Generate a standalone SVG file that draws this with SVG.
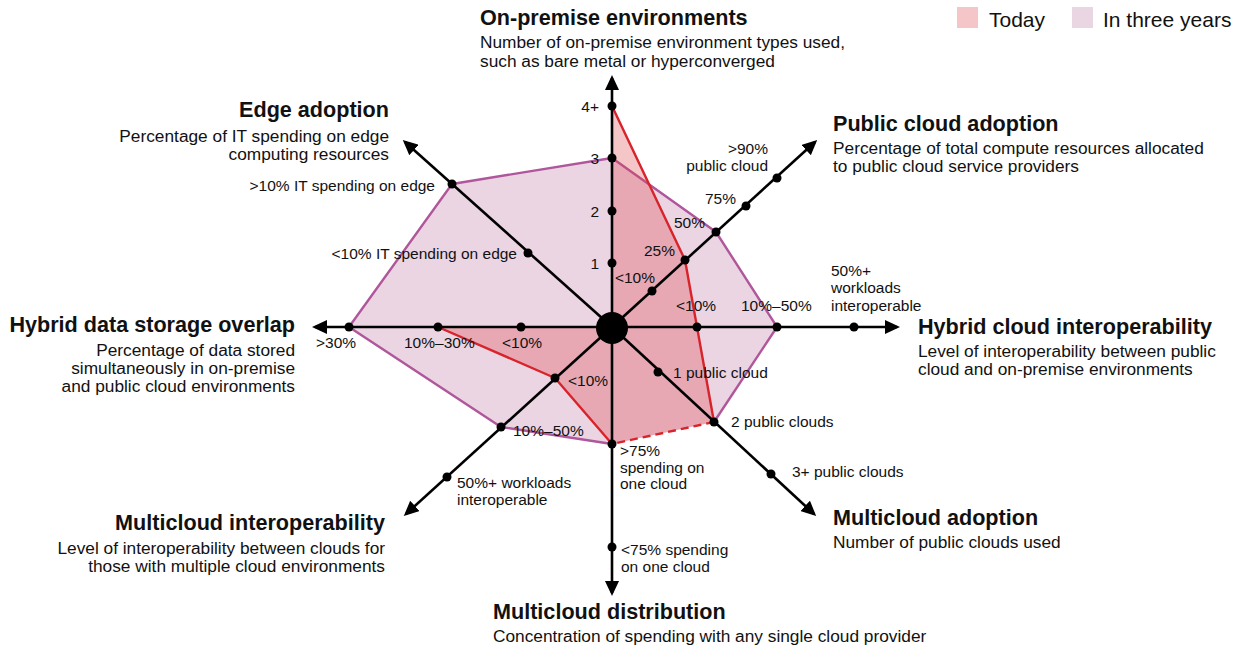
<svg xmlns="http://www.w3.org/2000/svg" width="1244" height="649" viewBox="0 0 1244 649">
<defs>
<marker id="arr" markerUnits="userSpaceOnUse" markerWidth="16" markerHeight="14" refX="12" refY="7" orient="auto">
<path d="M0,0 L15,7 L0,14 Z" fill="#000"/>
</marker>
</defs>
<style>
text{font-family:"Liberation Sans",Arial,sans-serif;fill:#111}
.t{font-size:21.6px;font-weight:bold}
.d{font-size:17.3px}
.l{font-size:15.5px}
.e{text-anchor:end}
.ax{stroke:#000;stroke-width:2.6;fill:none;marker-end:url(#arr)}
.dot{fill:#000}
.purf{fill:#ebd5e3;stroke:none}
.purs{fill:none;stroke:#b0569b;stroke-width:2.4;stroke-linejoin:round}
.redf{fill:#de4148;fill-opacity:0.3;stroke:none}
.reds{fill:none;stroke:#d8232a;stroke-width:2.4;stroke-linejoin:round}
</style>
<rect width="1244" height="649" fill="#fff"/>

<g id="legend">
<rect x="957" y="7" width="21" height="21" fill="#f4c6c8"/>
<text x="989" y="27" style="font-size:21px">Today</text>
<rect x="1072" y="7" width="21" height="21" fill="#ead6e3"/>
<text x="1103" y="27" style="font-size:21px">In three years</text>
</g>

<g id="series">
<polygon id="three-years" class="purf" points="612,158 716,232 777,327 714,422 612,444 501,427 349,327 452,184"/>
<polyline class="purs" points="714,422 777,327 716,232 612,158 452,184 349,327 501,427 612,444"/>
<polygon id="today-fill" class="redf" points="612,106 685,260 697,327 714,422 612,444 555,378 438,327 612,327"/>
<polyline class="reds" points="612,106 685,260 697,327 714,422"/>
<polyline class="reds" points="612,444 555,378 438,327"/>
<line class="reds" x1="714" y1="422" x2="612" y2="444" stroke-width="2.6" stroke-dasharray="8,5"/>
</g>

<g id="connectors">
<line class="ax" x1="612" y1="327" x2="612" y2="78"/>
<line class="ax" x1="612" y1="327" x2="815" y2="142"/>
<line class="ax" x1="612" y1="327" x2="897" y2="327"/>
<line class="ax" x1="612" y1="327" x2="814" y2="514"/>
<line class="ax" x1="612" y1="327" x2="612" y2="593"/>
<line class="ax" x1="612" y1="327" x2="406" y2="514"/>
<line class="ax" x1="612" y1="327" x2="315" y2="327"/>
<line class="ax" x1="612" y1="327" x2="405" y2="142"/>
</g>

<g id="center"><circle cx="612" cy="328" r="16" class="dot"/></g>

<g id="on-premise">
<circle cx="612" cy="106" r="4.5" class="dot"/><circle cx="612" cy="158" r="4.5" class="dot"/>
<circle cx="612" cy="211" r="4.5" class="dot"/><circle cx="612" cy="263" r="4.5" class="dot"/>
<text class="l e" x="599" y="112">4+</text>
<text class="l e" x="599" y="164">3</text>
<text class="l e" x="599" y="217">2</text>
<text class="l e" x="599" y="269">1</text>
<text class="t" x="480" y="25">On-premise environments</text>
<text class="d" x="480" y="48">Number of on-premise environment types used,</text>
<text class="d" x="480" y="67">such as bare metal or hyperconverged</text>
</g>

<g id="public-cloud">
<circle cx="652" cy="291" r="4.5" class="dot"/><circle cx="685" cy="260" r="4.5" class="dot"/>
<circle cx="716" cy="232" r="4.5" class="dot"/><circle cx="746" cy="206" r="4.5" class="dot"/>
<circle cx="777" cy="178" r="4.5" class="dot"/>
<text class="l e" x="655" y="283">&lt;10%</text>
<text class="l e" x="675" y="256">25%</text>
<text class="l e" x="705" y="228">50%</text>
<text class="l e" x="736" y="204">75%</text>
<text class="l e" x="768" y="154">&gt;90%</text>
<text class="l e" x="768" y="171">public cloud</text>
<text class="t" x="833" y="131">Public cloud adoption</text>
<text class="d" x="833" y="154">Percentage of total compute resources allocated</text>
<text class="d" x="833" y="172">to public cloud service providers</text>
</g>

<g id="hybrid-cloud">
<circle cx="697" cy="327" r="4.5" class="dot"/><circle cx="777" cy="327" r="4.5" class="dot"/>
<circle cx="854" cy="327" r="4.5" class="dot"/>
<text class="l" x="676" y="311">&lt;10%</text>
<text class="l" x="741" y="311">10%–50%</text>
<text class="l" x="831" y="276">50%+</text>
<text class="l" x="831" y="293">workloads</text>
<text class="l" x="831" y="311">interoperable</text>
<text class="t" x="918" y="334">Hybrid cloud interoperability</text>
<text class="d" x="918" y="357">Level of interoperability between public</text>
<text class="d" x="918" y="375">cloud and on-premise environments</text>
</g>

<g id="multicloud-adoption">
<circle cx="658" cy="372" r="4.5" class="dot"/><circle cx="714" cy="422" r="4.5" class="dot"/>
<circle cx="771" cy="474" r="4.5" class="dot"/>
<text class="l" x="673" y="378">1 public cloud</text>
<text class="l" x="731" y="427">2 public clouds</text>
<text class="l" x="792" y="477">3+ public clouds</text>
<text class="t" x="833" y="525">Multicloud adoption</text>
<text class="d" x="833" y="548">Number of public clouds used</text>
</g>

<g id="multicloud-distribution">
<circle cx="612" cy="444" r="4.5" class="dot"/><circle cx="612" cy="547" r="4.5" class="dot"/>
<text class="l" x="620" y="456">&gt;75%</text>
<text class="l" x="620" y="473">spending on</text>
<text class="l" x="620" y="489">one cloud</text>
<text class="l" x="621" y="555">&lt;75% spending</text>
<text class="l" x="621" y="572">on one cloud</text>
<text class="t" x="493" y="619">Multicloud distribution</text>
<text class="d" x="493" y="642">Concentration of spending with any single cloud provider</text>
</g>

<g id="multicloud-interop">
<circle cx="555" cy="378" r="4.5" class="dot"/><circle cx="501" cy="427" r="4.5" class="dot"/>
<circle cx="447" cy="477" r="4.5" class="dot"/>
<text class="l" x="568" y="386">&lt;10%</text>
<text class="l" x="513" y="436">10%–50%</text>
<text class="l" x="457" y="488">50%+ workloads</text>
<text class="l" x="457" y="505">interoperable</text>
<text class="t e" x="385" y="530">Multicloud interoperability</text>
<text class="d e" x="385" y="554">Level of interoperability between clouds for</text>
<text class="d e" x="385" y="572">those with multiple cloud environments</text>
</g>

<g id="hybrid-storage">
<circle cx="521" cy="327" r="4.5" class="dot"/><circle cx="438" cy="327" r="4.5" class="dot"/>
<circle cx="349" cy="327" r="4.5" class="dot"/>
<text class="l" x="316" y="348">&gt;30%</text>
<text class="l" x="404" y="348">10%–30%</text>
<text class="l" x="502" y="348">&lt;10%</text>
<text class="t e" x="295" y="332">Hybrid data storage overlap</text>
<text class="d e" x="295" y="356">Percentage of data stored</text>
<text class="d e" x="295" y="374">simultaneously in on-premise</text>
<text class="d e" x="295" y="392">and public cloud environments</text>
</g>

<g id="edge-adoption">
<circle cx="528" cy="253" r="4.5" class="dot"/><circle cx="452" cy="184" r="4.5" class="dot"/>
<text class="l e" x="517" y="259">&lt;10% IT spending on edge</text>
<text class="l e" x="435" y="191">&gt;10% IT spending on edge</text>
<text class="t e" x="389" y="117">Edge adoption</text>
<text class="d e" x="389" y="142">Percentage of IT spending on edge</text>
<text class="d e" x="389" y="160">computing resources</text>
</g>
</svg>
